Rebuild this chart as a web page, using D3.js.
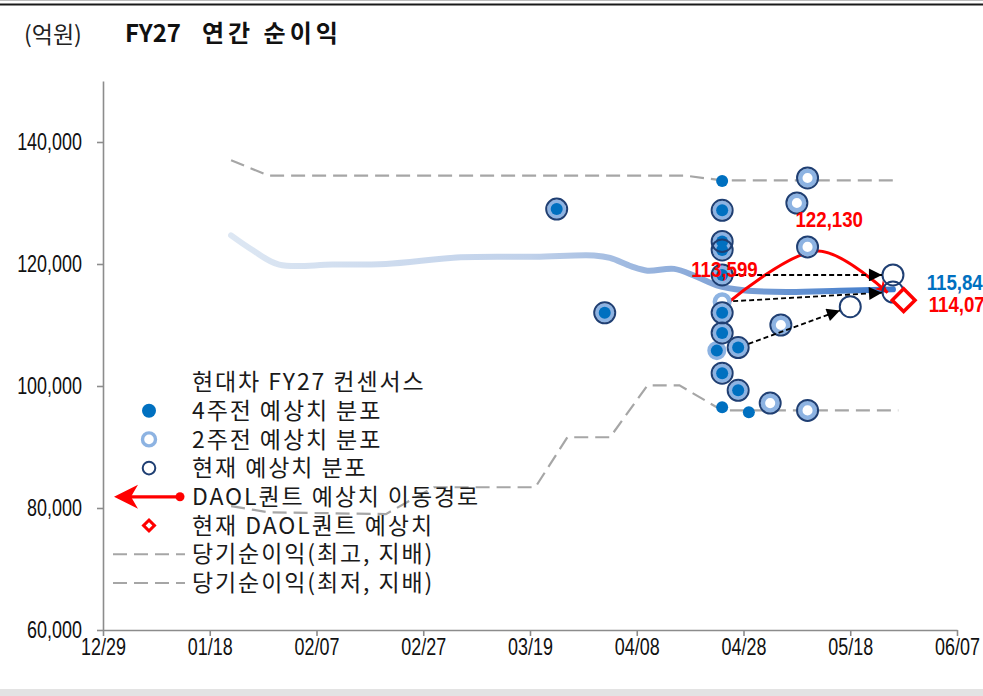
<!DOCTYPE html>
<html>
<head>
<meta charset="utf-8">
<script src="https://cdn.jsdelivr.net/npm/d3@7"></script>
<style>
	body { margin: 0; background: #fff; }
	svg { display: block; }
</style>
</head>
<body>
<svg id="chart" width="983" height="696"></svg>
<script>
// ---- data ----
var xTickDates = ["2025-12-29", "2026-01-18", "2026-02-07", "2026-02-27", "2026-03-19", "2026-04-08", "2026-04-28", "2026-05-18", "2026-06-07"];
var yTicks = [60000, 80000, 100000, 120000, 140000];

// 현대차 FY27 컨센서스
var consensus = [
	["2026-01-22", 124700], ["2026-01-26", 122300], ["2026-01-31", 119900], ["2026-02-10", 119900],
	["2026-02-20", 120000], ["2026-03-06", 121100], ["2026-03-20", 121200], ["2026-03-31", 121400],
	["2026-04-03", 121000], ["2026-04-07", 119600], ["2026-04-10", 118900], ["2026-04-15", 119200],
	["2026-04-19", 118000], ["2026-04-23", 116500], ["2026-04-28", 115700], ["2026-05-06", 115400],
	["2026-05-16", 115600], ["2026-05-26", 115840]
];

// 당기순이익(최고, 지배) / (최저, 지배)
var highLine = [["2026-01-22", 137000], ["2026-01-29", 134500], ["2026-04-17", 134500], ["2026-04-24", 133700], ["2026-05-27", 133700]];
var lowLine = [
	["2026-01-22", 80300], ["2026-01-29", 79300], ["2026-02-20", 79000], ["2026-03-01", 83400],
	["2026-03-20", 83400], ["2026-03-26", 91600], ["2026-04-03", 91600], ["2026-04-10", 100100],
	["2026-04-16", 100100], ["2026-04-24", 96000], ["2026-05-27", 96000]
];

// 4주전 예상치 분포
var fourWeek = [
	["2026-03-24", 129000], ["2026-04-02", 112000], ["2026-04-24", 133600], ["2026-04-24", 128800],
	["2026-04-24", 123700], ["2026-04-24", 122300], ["2026-04-24", 118200], ["2026-04-24", 112000],
	["2026-04-24", 108700], ["2026-04-23", 105800], ["2026-04-27", 106300], ["2026-04-24", 102100],
	["2026-04-27", 99300], ["2026-04-24", 96500], ["2026-04-29", 95700]
];

// 2주전 예상치 분포
var twoWeek = [
	["2026-03-24", 129000], ["2026-04-02", 112000], ["2026-04-24", 128800], ["2026-04-24", 123700],
	["2026-04-24", 122300], ["2026-04-24", 118200], ["2026-04-24", 113800], ["2026-04-24", 112000],
	["2026-04-24", 108700], ["2026-04-23", 105800], ["2026-04-27", 106300], ["2026-04-24", 102100],
	["2026-04-27", 99300], ["2026-05-03", 97200], ["2026-05-05", 110000], ["2026-05-08", 130000],
	["2026-05-10", 134100], ["2026-05-10", 122800], ["2026-05-10", 96000]
];

// 현재 예상치 분포
var current = [
	["2026-03-24", 129000], ["2026-04-02", 112000], ["2026-04-24", 128800], ["2026-04-24", 123700],
	["2026-04-24", 122300], ["2026-04-24", 118200], ["2026-04-24", 112000], ["2026-04-24", 108700],
	["2026-04-27", 106300], ["2026-04-24", 102100], ["2026-04-27", 99300], ["2026-05-03", 97200],
	["2026-05-05", 110000], ["2026-05-08", 130000], ["2026-05-10", 134100], ["2026-05-10", 122800],
	["2026-05-10", 96000], ["2026-05-18", 113000], ["2026-05-26", 118200], ["2026-05-26", 115400]
];

// estimate moves (from -> to)
var moves = [
	[["2026-04-24", 118200], ["2026-05-26", 118200]],
	[["2026-04-24", 113800], ["2026-05-26", 115400]],
	[["2026-04-27", 106300], ["2026-05-18", 113000]]
];

// DAOL퀀트 예상치 이동경로 / 현재 DAOL퀀트 예상치
var daolPath = [["2026-04-25", 113599], ["2026-05-12", 122130], ["2026-05-25", 115300]];
var daolNow = ["2026-05-28", 114070];
var consensusNow = 115840;

var legendLabels = ["현대차 FY27 컨센서스", "4주전 예상치 분포", "2주전 예상치 분포", "현재 예상치 분포",
	"DAOL퀀트 예상치 이동경로", "현재 DAOL퀀트 예상치", "당기순이익(최고, 지배)", "당기순이익(최저, 지배)"];

// ---- drawing ----
var parse = d3.timeParse("%Y-%m-%d");
var numFont = "'Liberation Sans', Arial, sans-serif";
var krFont = "'Noto Sans CJK KR', 'Noto Sans', sans-serif";

var svg = d3.select("#chart");
var x = d3.scaleTime().domain([parse("2025-12-29"), parse("2026-06-07")]).range([103, 957]);
var y = d3.scaleLinear().domain([60000, 150000]).range([630, 81]);

var px = function (d) { return x(parse(d[0])); };
var py = function (d) { return y(d[1]); };

// frame
svg.append("rect").attr("x", 0).attr("y", 0).attr("width", 983).attr("height", 1).attr("fill", "#bdbdbd");
svg.append("rect").attr("x", 0).attr("y", 3.5).attr("width", 983).attr("height", 2).attr("fill", "#1a1a1a");
svg.append("rect").attr("x", 0).attr("y", 689).attr("width", 983).attr("height", 7).attr("fill", "#e3e3e3");

// title
svg.append("text").attr("x", 24).attr("y", 43)
	.style("font-family", krFont).style("font-size", "23px").style("fill", "#222")
	.text("(억원)");
var title = svg.append("text").attr("x", 125).attr("y", 42)
	.style("font-family", krFont).style("font-size", "24px").style("font-weight", "bold").style("fill", "#111");
title.append("tspan").text("FY27");
title.append("tspan").attr("x", 202).style("letter-spacing", "4px").text("연간 순이익");

// axes
var xAxis = svg.append("g").attr("transform", "translate(0,630)")
	.call(d3.axisBottom(x).tickValues(xTickDates.map(parse)).tickFormat(d3.timeFormat("%m/%d"))
		.tickSize(6).tickSizeOuter(0).tickPadding(3));
var yAxis = svg.append("g").attr("transform", "translate(103,0)")
	.call(d3.axisLeft(y).tickValues(yTicks).tickFormat(d3.format(","))
		.tickSize(6).tickSizeOuter(0).tickPadding(21));
[xAxis, yAxis].forEach(function (g) {
	g.select(".domain").attr("stroke", "#8c8c8c").attr("stroke-width", 1.6);
	g.selectAll(".tick line").attr("stroke", "#8c8c8c").attr("stroke-width", 1.6);
	g.selectAll(".tick text").attr("transform", "scale(0.78,1)")
		.style("font-family", numFont).style("font-size", "23px").style("fill", "#111");
});

// defs
var defs = svg.append("defs");
var grad = defs.append("linearGradient").attr("id", "consGrad").attr("gradientUnits", "userSpaceOnUse")
	.attr("x1", px(consensus[0])).attr("x2", px(consensus[consensus.length - 1])).attr("y1", 0).attr("y2", 0);
grad.append("stop").attr("offset", "0").attr("stop-color", "#dde7f3");
grad.append("stop").attr("offset", "0.45").attr("stop-color", "#c0d1ea");
grad.append("stop").attr("offset", "0.75").attr("stop-color", "#7fa2d6");
grad.append("stop").attr("offset", "1").attr("stop-color", "#3d7acb");
var lgGrad = defs.append("linearGradient").attr("id", "legGrad")
	.attr("x1", "0").attr("x2", "1").attr("y1", "0").attr("y2", "0");
lgGrad.append("stop").attr("offset", "0").attr("stop-color", "#dde7f3");
lgGrad.append("stop").attr("offset", "1").attr("stop-color", "#2f6fc0");

defs.append("marker").attr("id", "blackHead").attr("viewBox", "0 0 10 10")
	.attr("refX", 10).attr("refY", 5).attr("markerUnits", "userSpaceOnUse")
	.attr("markerWidth", 15).attr("markerHeight", 13).attr("orient", "auto")
  .append("path").attr("d", "M0,0 L10,5 L0,10 z").attr("fill", "#000");
defs.append("marker").attr("id", "redHead").attr("viewBox", "0 0 10 10")
	.attr("refX", 10).attr("refY", 5).attr("markerUnits", "userSpaceOnUse")
	.attr("markerWidth", 14).attr("markerHeight", 12).attr("orient", "auto")
  .append("path").attr("d", "M0,0 L10,5 L0,10 L3,5 z").attr("fill", "#ff0000");

// dashed min / max lines
var straight = d3.line().x(px).y(py);
[highLine, lowLine].forEach(function (data) {
	svg.append("path").datum(data).attr("d", straight)
		.attr("fill", "none").attr("stroke", "#a6a6a6").attr("stroke-width", 2.2)
		.attr("stroke-dasharray", "14,7");
});

// consensus
var smooth = d3.line().x(px).y(py).curve(d3.curveCatmullRom.alpha(0.5));
svg.append("path").datum(consensus).attr("d", smooth)
	.attr("fill", "none").attr("stroke", "url(#consGrad)").attr("stroke-width", 6)
	.attr("stroke-linecap", "round");

// DAOL path
svg.append("path").datum(daolPath).attr("d", smooth)
	.attr("fill", "none").attr("stroke", "#ff0000").attr("stroke-width", 3)
	.attr("marker-end", "url(#redHead)");

// estimate distributions
svg.append("g").selectAll("circle").data(twoWeek).enter().append("circle")
	.attr("cx", px).attr("cy", py).attr("r", 7.3)
	.attr("fill", "#fff").attr("stroke", "#8db3e2").attr("stroke-width", 4.5);
svg.append("g").selectAll("circle").data(fourWeek).enter().append("circle")
	.attr("cx", px).attr("cy", py).attr("r", 6)
	.attr("fill", "#0070c0");
svg.append("g").selectAll("circle").data(current).enter().append("circle")
	.attr("cx", px).attr("cy", py).attr("r", 10.5)
	.attr("fill", "none").attr("stroke", "#1f3f73").attr("stroke-width", 2);

// moves
moves.forEach(function (m) {
	var x0 = px(m[0]), y0 = py(m[0]), x1 = px(m[1]), y1 = py(m[1]);
	var len = Math.hypot(x1 - x0, y1 - y0);
	var ux = (x1 - x0) / len, uy = (y1 - y0) / len;
	svg.append("line")
		.attr("x1", x0 + ux * 11).attr("y1", y0 + uy * 11)
		.attr("x2", x1 - ux * 11).attr("y2", y1 - uy * 11)
		.attr("stroke", "#000").attr("stroke-width", 1.8).attr("stroke-dasharray", "5,3")
		.attr("marker-end", "url(#blackHead)");
});

// current DAOL estimate
var diamond = d3.symbol().type(d3.symbolSquare).size(260);
svg.append("path").attr("d", diamond())
	.attr("transform", "translate(" + px(daolNow) + "," + py(daolNow) + ") rotate(45)")
	.attr("fill", "#fff").attr("stroke", "#ff0000").attr("stroke-width", 3.5);

// value labels
var valueLabel = function (tx, ty, anchor, color, value) {
	svg.append("text").attr("transform", "translate(" + tx + "," + ty + ") scale(0.85,1)")
		.attr("text-anchor", anchor)
		.style("font-family", numFont).style("font-size", "22px").style("font-weight", "bold")
		.style("fill", color).text(d3.format(",")(value));
};
valueLabel(px(daolPath[0]) - 3, py(daolPath[0]) - 26, "middle", "#ff0000", daolPath[0][1]);
valueLabel(px(daolPath[1]) + 11, py(daolPath[1]) - 24, "middle", "#ff0000", daolPath[1][1]);
valueLabel(px(daolNow) + 23, y(consensusNow) + 1, "start", "#0070c0", consensusNow);
valueLabel(px(daolNow) + 25, py(daolNow) + 12, "start", "#ff0000", daolNow[1]);

// legend
var legend = svg.append("g");
var rowY = function (i) { return 382 + i * 28.7; };
legend.selectAll("text").data(legendLabels).enter().append("text")
	.attr("x", 192).attr("y", function (d, i) { return rowY(i); }).attr("dy", "0.36em")
	.style("font-family", krFont).style("font-size", "23px").style("letter-spacing", "1.9px")
	.style("fill", "#1a1a1a")
	.text(function (d) { return d; });
legend.append("line").attr("x1", 114).attr("x2", 184).attr("y1", rowY(0)).attr("y2", rowY(0))
	.attr("stroke", "url(#legGrad)").attr("stroke-width", 5).attr("stroke-linecap", "round");
legend.append("circle").attr("cx", 149).attr("cy", rowY(1)).attr("r", 7).attr("fill", "#0070c0");
legend.append("circle").attr("cx", 149).attr("cy", rowY(2)).attr("r", 6.5)
	.attr("fill", "#fff").attr("stroke", "#8db3e2").attr("stroke-width", 3.4);
legend.append("circle").attr("cx", 149).attr("cy", rowY(3)).attr("r", 6.3)
	.attr("fill", "#fff").attr("stroke", "#1f3f73").attr("stroke-width", 2);
legend.append("line").attr("x1", 180).attr("x2", 118).attr("y1", rowY(4)).attr("y2", rowY(4))
	.attr("stroke", "#ff0000").attr("stroke-width", 3.2);
legend.append("path").attr("d", "M114," + rowY(4) + " l24,-12 l-7,12 l7,12 z").attr("fill", "#ff0000");
legend.append("circle").attr("cx", 180).attr("cy", rowY(4)).attr("r", 4.5).attr("fill", "#ff0000");
legend.append("path").attr("d", d3.symbol().type(d3.symbolSquare).size(60)())
	.attr("transform", "translate(149," + rowY(5) + ") rotate(45)")
	.attr("fill", "#fff").attr("stroke", "#ff0000").attr("stroke-width", 3);
[6, 7].forEach(function (i) {
	legend.append("line").attr("x1", 113).attr("x2", 185).attr("y1", rowY(i)).attr("y2", rowY(i))
		.attr("stroke", "#a6a6a6").attr("stroke-width", 2).attr("stroke-dasharray", "14,7");
});
</script>
</body>
</html>
